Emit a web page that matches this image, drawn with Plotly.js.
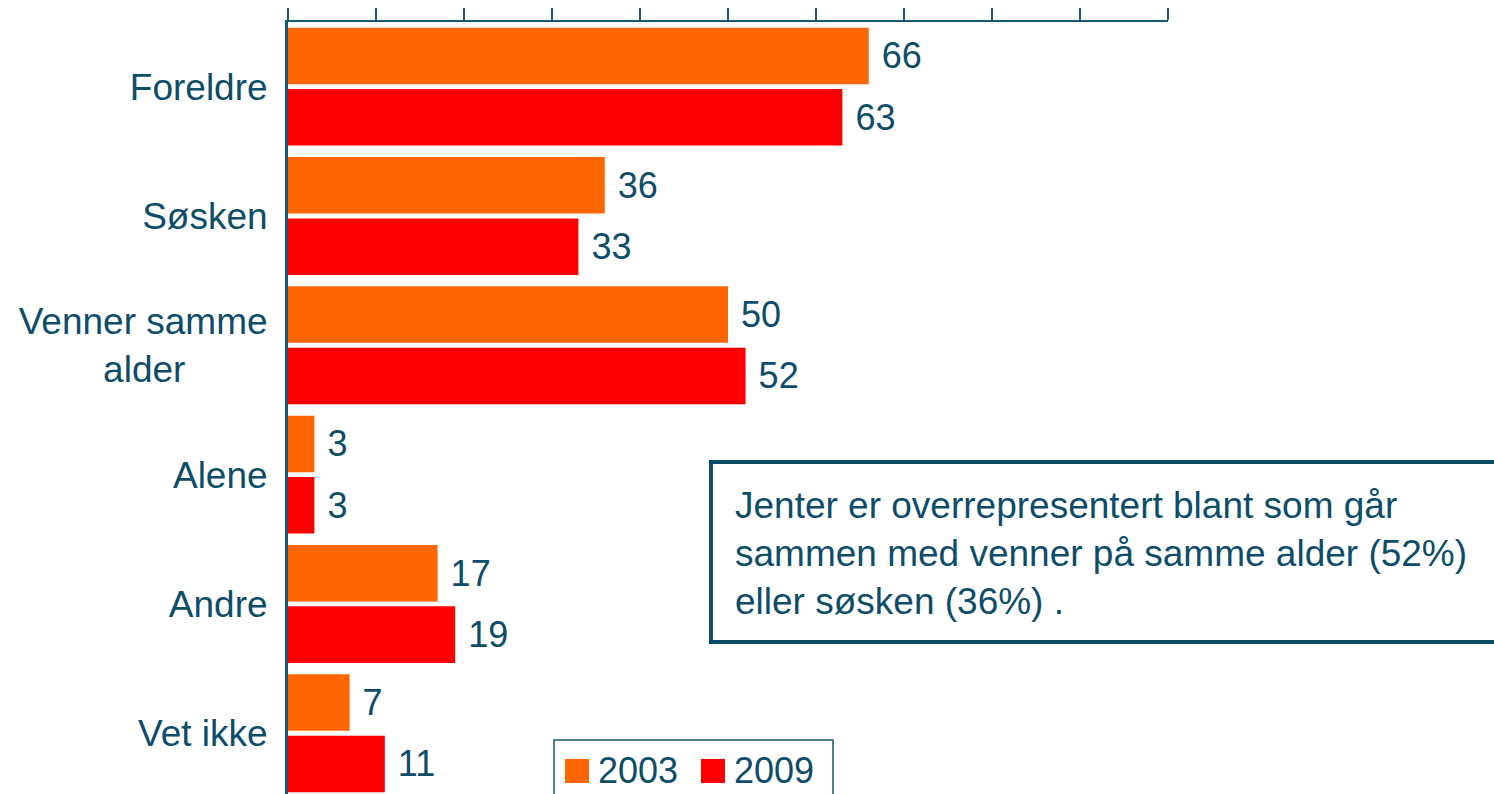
<!DOCTYPE html>
<html>
<head>
<meta charset="utf-8">
<script src="https://cdn.plot.ly/plotly-3.0.1.min.js"></script>
<style>html,body{margin:0;padding:0;background:#fff;}#chart{width:1494px;height:794px;}</style>
</head>
<body>
<div id="chart"></div>
<script>
const categories = ["Foreldre", "Søsken", "Venner samme<br>alder\u00a0\u00a0\u00a0\u00a0\u00a0\u00a0\u00a0\u00a0", "Alene", "Andre", "Vet ikke"];
const seriesNames = ["2003", "2009"];
const values2003 = [66, 36, 50, 3, 17, 7];
const values2009 = [63, 33, 52, 3, 19, 11];
const noteText = "Jenter er overrepresentert blant som går<br>sammen med venner på samme alder (52%)<br>eller søsken (36%) .";

const TEAL = "#0d4d69";
const LINE = "#1a5773";
const COLORS = ["#FF6600", "#FF0000"];
const FONT = "Liberation Sans, Arial, sans-serif";

function mkTrace(vals, name, color) {
  return {
    type: "bar", orientation: "h",
    y: categories, x: vals, name: name,
    marker: {color: color},
    text: vals.map(v => "\u00a0" + v),
    textposition: "outside",
    textfont: {family: FONT, size: 36, color: TEAL},
    constraintext: "none",
    cliponaxis: false,
    showlegend: false,
    hoverinfo: "x+name"
  };
}

const traces = [
  mkTrace(values2003, seriesNames[0], COLORS[0]),
  mkTrace(values2009, seriesNames[1], COLORS[1])
];

// paper coordinate helpers (plot area: x 288..1168, y 22..794)
const L = 288, T = 22, W = 880, H = 772;
const px = x => (x - L) / W;
const py = y => 1 - (y - T) / H;

const shapes = [
  {type: "rect", xref: "paper", yref: "paper", x0: px(711), x1: px(1540), y0: py(642), y1: py(462),
   line: {color: TEAL, width: 4}, fillcolor: "rgba(255,255,255,0)", layer: "above"},
  {type: "rect", xref: "paper", yref: "paper", x0: px(554), x1: px(833), y0: py(830), y1: py(740),
   line: {color: LINE, width: 1.5}, fillcolor: "rgba(255,255,255,0)", layer: "above"},
  {type: "rect", xref: "paper", yref: "paper", x0: px(565), x1: px(589), y0: py(783), y1: py(759),
   line: {width: 0}, fillcolor: COLORS[0], layer: "above"},
  {type: "rect", xref: "paper", yref: "paper", x0: px(701), x1: px(725), y0: py(783), y1: py(759),
   line: {width: 0}, fillcolor: COLORS[1], layer: "above"}
];

const annotations = [
  {xref: "paper", yref: "paper", x: px(733), y: py(553), xanchor: "left", yanchor: "middle",
   text: noteText, align: "left", showarrow: false,
   font: {family: FONT, size: 37, color: TEAL}},
  {xref: "paper", yref: "paper", x: px(596), y: py(770), xanchor: "left", yanchor: "middle",
   text: seriesNames[0], showarrow: false, font: {family: FONT, size: 36, color: TEAL}},
  {xref: "paper", yref: "paper", x: px(732), y: py(770), xanchor: "left", yanchor: "middle",
   text: seriesNames[1], showarrow: false, font: {family: FONT, size: 36, color: TEAL}}
];

const layout = {
  width: 1494, height: 794,
  margin: {l: L, r: 1494 - L - W, t: T, b: 0, pad: 0},
  paper_bgcolor: "#ffffff", plot_bgcolor: "#ffffff",
  barmode: "group", bargap: 0.05, bargroupgap: 0.08,
  showlegend: false,
  font: {family: FONT, color: TEAL},
  xaxis: {
    side: "top", range: [0, 100], dtick: 10, tick0: 0,
    ticks: "outside", ticklen: 12, tickwidth: 2, tickcolor: LINE,
    showticklabels: false, showline: true, linecolor: LINE, linewidth: 2,
    showgrid: false, zeroline: false, fixedrange: true
  },
  yaxis: {
    type: "category", range: [5.47, -0.5],
    ticks: "", showline: true, linecolor: LINE, linewidth: 3,
    showgrid: false, zeroline: false,
    tickfont: {family: FONT, size: 37, color: TEAL},
    ticklabelstandoff: 10, fixedrange: true
  },
  shapes: shapes,
  annotations: annotations
};

Plotly.newPlot("chart", traces, layout, {displayModeBar: false, staticPlot: true});
</script>
</body>
</html>
